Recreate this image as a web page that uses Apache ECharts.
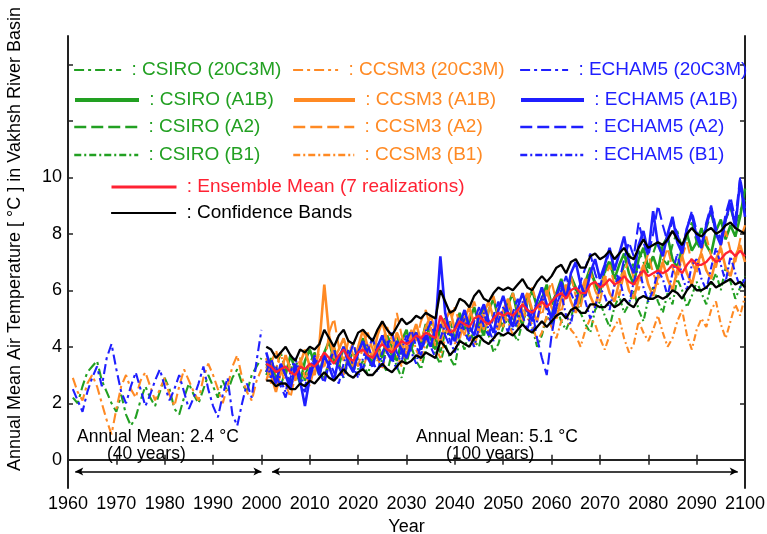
<!DOCTYPE html>
<html>
<head>
<meta charset="utf-8">
<script src="https://cdn.jsdelivr.net/npm/echarts@6/dist/echarts.min.js"></script>
<style>html,body{margin:0;padding:0;background:#fff;}#c{width:767px;height:534px;}</style>
</head>
<body>
<div id="c"></div>
<script>
// ---------- data ----------
const histStart = 1961, histEnd = 2000;
const scenStart = 2001, scenEnd = 2100;

const csiro20C3M = [2.2,2.0,2.6,3.1,3.3,3.5,2.8,2.4,2.0,1.7,2.3,1.6,1.2,1.5,2.1,2.6,2.2,1.9,2.4,2.9,2.5,1.8,1.6,2.2,2.7,2.3,2.0,2.5,3.0,2.6,2.2,2.8,2.4,2.9,3.2,2.7,2.4,3.0,3.3,3.6];
const ccsm20C3M  = [2.9,2.4,2.1,2.7,3.0,2.6,2.0,1.4,0.9,1.8,2.6,3.0,2.5,2.2,2.8,3.1,2.6,2.1,2.5,2.9,2.3,1.9,2.6,3.2,2.8,2.4,2.1,2.9,3.4,3.0,2.5,2.0,2.6,3.3,3.7,2.9,2.4,2.1,2.8,3.2];
const echam20C3M = [2.5,2.1,1.7,2.4,2.9,3.3,2.6,3.6,4.1,3.2,2.4,2.0,2.6,3.1,2.5,1.9,2.3,2.8,3.2,2.6,2.1,2.5,3.0,2.4,1.8,2.2,2.7,3.3,2.5,1.9,1.5,2.3,2.9,1.6,1.2,2.0,2.7,2.2,3.5,4.6];

const csiroA1B = [3.1,3.6,2.8,3.3,3.0,3.7,3.2,2.7,3.5,3.9, 3.4,3.0,3.8,4.2,3.5,3.3,4.0,3.6,3.1,3.9, 4.3,3.7,3.4,4.1,3.6,4.4,4.0,3.5,4.2,4.6, 3.9,4.5,4.1,4.8,4.3,3.9,4.7,5.0,4.4,4.6, 5.2,4.6,4.9,5.4,4.8,4.4,5.3,5.7,5.0,4.7, 5.5,5.9,5.1,4.8,5.6,6.0,5.4,5.7,6.2,5.5, 5.9,6.4,5.8,6.5,6.1,5.6,6.3,6.8,6.2,5.9, 6.7,7.0,6.4,6.9,7.3,6.6,6.2,7.1,7.5,6.8, 7.2,6.7,7.6,7.9,7.1,6.8,7.5,8.0,7.4,7.7, 8.2,7.6,7.3,8.1,8.5,7.8,8.3,7.9,8.6,9.6];
const csiroA2  = [3.4,2.9,3.2,3.8,3.1,2.7,3.3,3.6,3.0,3.4, 3.8,3.2,2.9,3.5,4.0,3.4,3.0,3.7,4.1,3.5, 3.2,3.9,4.3,3.6,3.3,4.0,3.7,4.4,3.8,3.4, 4.1,4.6,3.9,4.3,4.8,4.2,3.8,4.5,4.9,4.3, 4.7,5.1,4.5,4.2,4.9,5.4,4.8,5.2,4.6,5.0, 5.6,5.0,4.7,5.3,5.8,5.2,5.6,6.1,5.4,5.1, 5.8,6.2,5.7,6.4,6.0,5.5,6.2,6.7,6.3,6.0, 6.6,7.1,6.5,6.2,6.9,7.3,6.8,7.4,7.0,6.6, 7.3,7.8,7.1,6.9,7.6,8.1,7.5,7.9,8.4,7.7, 7.4,8.2,8.7,8.0,7.7,8.5,8.9,8.3,8.8,9.2];
const csiroB1  = [3.0,3.5,3.1,2.6,3.2,3.4,2.9,3.3,2.8,3.2, 3.6,3.1,2.8,3.4,3.9,3.3,2.9,3.5,3.8,3.2, 3.5,3.0,3.7,4.1,3.4,3.1,3.8,3.3,2.9,3.6, 4.0,3.5,3.2,3.9,4.3,3.7,3.4,4.1,3.6,3.3, 4.3,3.9,4.6,4.2,4.0,4.8,4.4,3.8,4.1,4.7, 5.0,4.5,4.2,4.9,5.3,4.7,4.0,4.4,5.1,4.8, 5.4,4.9,4.6,5.0,5.7,5.2,4.8,4.5,5.3,5.6, 5.1,4.7,5.4,5.8,5.2,5.5,6.0,5.3,4.9,5.7, 6.1,5.6,5.2,5.9,5.5,6.4,6.0,5.4,5.8,6.3, 5.9,5.5,6.2,6.6,6.0,6.8,6.3,5.7,6.1,6.5];

const ccsmA1B = [3.6,3.0,2.4,3.1,3.7,3.2,2.8,3.4,3.9,3.3, 3.0,4.1,6.2,4.4,3.6,3.9,4.3,3.7,3.3,4.0, 4.6,4.0,3.6,4.4,4.9,4.2,3.8,4.5,4.1,3.7, 4.3,4.8,4.2,4.7,5.1,4.5,4.1,4.9,5.3,4.6, 4.3,5.0,5.4,4.8,4.5,5.2,5.6,5.0,4.6,5.3, 5.7,5.1,4.8,5.5,5.9,5.3,4.9,5.6,6.0,5.4, 5.0,5.7,6.2,5.6,5.2,5.9,6.4,5.8,5.4,6.1, 6.5,5.9,5.6,6.3,6.7,6.0,5.7,6.4,6.9,6.2, 5.8,6.5,7.0,6.4,6.0,6.7,7.2,6.6,6.2,6.9, 7.3,6.7,6.4,7.1,7.5,6.8,6.5,7.2,7.6,7.0];
const ccsmA2  = [2.8,3.4,3.9,3.2,2.7,2.2,3.0,3.5,3.1,2.6, 3.3,3.8,3.2,4.5,5.0,4.0,3.5,4.2,3.7,3.3, 4.0,4.5,3.9,3.5,4.2,4.7,4.1,5.2,4.4,3.9, 4.6,4.2,4.9,5.3,4.6,4.3,5.0,4.5,4.8,5.4, 4.8,4.4,5.1,5.6,5.0,4.6,5.3,5.8,5.1,4.7, 5.4,5.9,5.3,4.9,5.6,6.1,5.5,5.1,5.8,6.3, 5.6,5.2,6.0,6.5,5.8,5.4,6.2,6.7,6.0,5.6, 6.4,6.9,6.2,5.8,6.6,7.1,6.4,6.0,6.8,7.3, 6.6,6.2,7.0,7.5,6.8,6.4,7.2,7.7,7.0,6.6, 7.4,7.9,7.2,6.8,7.6,8.1,7.4,7.0,7.8,8.3];
const ccsmB1  = [3.3,2.7,3.2,3.8,3.0,2.5,3.1,3.6,2.9,3.3, 3.7,3.1,2.8,3.5,4.0,3.4,3.0,3.7,4.2,3.5, 3.2,3.8,4.3,3.6,3.2,3.9,4.4,3.7,3.3,4.0, 4.5,3.9,3.5,4.2,4.7,4.0,3.6,4.3,4.8,4.1, 4.5,5.0,4.4,4.0,4.6,5.1,4.5,4.2,4.8,5.2, 4.9,4.4,4.6,5.3,5.0,4.8,4.2,4.5,5.1,4.7, 4.3,4.9,5.2,4.6,4.4,4.0,4.6,5.0,4.8,4.3, 3.9,4.4,4.7,5.0,4.3,3.8,4.1,4.9,4.5,4.2, 4.6,5.1,4.5,4.0,4.3,4.9,5.3,4.4,3.9,4.6, 5.0,4.7,5.3,5.6,4.8,4.3,4.9,5.5,5.1,5.8];

const echamA1B = [3.8,3.2,2.7,3.4,3.0,2.5,3.3,2.8,1.9,2.9, 3.5,3.0,3.7,3.3,2.8,3.6,4.0,3.4,3.1,3.8, 4.2,3.6,3.3,4.0,4.4,3.8,3.5,4.2,3.9,3.6, 4.1,4.5,3.9,4.4,4.0,4.7,7.2,5.2,4.5,4.2, 4.8,5.3,4.7,4.4,5.1,5.5,4.9,4.5,5.3,5.8, 5.2,4.7,5.4,5.9,5.3,4.9,5.6,6.1,5.5,5.0, 5.8,6.3,5.7,6.6,7.0,6.2,5.8,6.6,7.1,6.4, 6.9,7.5,6.7,7.3,7.9,7.0,6.6,7.6,8.1,7.3, 8.8,7.6,7.2,8.0,8.6,7.7,7.3,8.2,8.7,7.9, 7.5,8.3,8.9,8.0,7.6,8.5,9.1,8.2,9.9,8.6];
const echamA2  = [3.1,3.6,3.0,2.6,2.2,2.9,3.4,2.7,2.4,3.1, 3.6,3.1,2.7,3.4,3.9,3.3,2.9,3.6,4.1,3.5, 3.2,3.9,4.3,3.7,3.3,4.0,4.5,3.8,3.5,4.2, 4.6,4.0,3.7,4.4,4.9,4.3,4.8,4.4,4.0,4.7, 5.1,4.5,4.2,4.9,5.4,4.7,4.4,5.1,5.6,5.0, 4.5,5.2,5.7,5.1,4.6,5.3,4.3,3.6,3.0,4.4, 5.4,6.0,6.5,5.9,5.5,6.3,6.8,7.3,6.6,6.1, 6.8,7.4,6.8,6.3,7.1,7.7,7.2,8.4,7.7,7.2, 8.0,9.0,8.3,7.7,8.5,8.0,7.4,8.2,8.8,8.1, 7.6,8.4,9.0,8.2,7.8,8.7,9.3,8.5,10.0,8.9];
const echamB1  = [3.5,2.9,3.3,2.8,2.4,3.1,3.6,3.0,2.6,3.2, 3.7,3.2,2.8,3.5,3.1,2.7,3.4,3.9,3.3,2.9, 3.6,4.1,3.5,3.1,3.8,4.2,3.6,3.2,3.9,4.4, 3.8,3.4,4.1,4.6,4.0,3.6,4.3,4.8,4.2,3.8, 4.5,5.0,4.4,4.0,4.7,5.2,4.6,4.2,4.9,5.4, 5.1,4.6,4.9,5.6,5.2,4.5,4.9,5.8,5.3,4.8, 5.5,5.9,5.1,4.8,5.7,6.3,5.6,5.0,5.4,6.1, 5.8,5.3,6.2,6.5,5.7,5.5,6.3,6.9,6.1,5.6, 6.0,6.7,6.4,5.8,6.6,7.3,6.5,6.0,6.9,7.1, 6.4,6.0,6.8,7.5,6.9,6.3,7.2,6.6,6.1,6.4];

const ensembleMean = [3.4,3.3,3.1,3.2,3.3,3.1,3.0,3.3,3.2,3.4, 3.3,3.5,3.8,3.6,3.4,3.7,3.9,3.6,3.5,3.8, 3.9,3.7,3.6,3.9,4.1,3.9,3.8,4.0,4.2,4.1, 4.2,4.4,4.3,4.5,4.4,4.3,5.1,4.8,4.5,4.6, 4.9,4.8,4.7,5.0,5.1,4.9,4.8,5.0,5.2,5.1, 5.2,5.1,5.3,5.5,5.3,5.2,5.4,5.6,5.4,5.6, 5.8,5.9,5.7,6.0,6.1,5.9,5.9,6.2,6.3,6.1, 6.2,6.4,6.2,6.3,6.5,6.3,6.2,6.5,6.7,6.5, 6.6,6.7,6.6,6.7,6.9,6.8,6.6,6.9,7.1,6.9, 6.9,7.0,7.2,7.0,7.1,7.3,7.4,7.2,7.4,7.2];
const confUpper = [4.0,3.9,3.6,3.8,4.0,3.7,3.5,3.9,3.8,4.0, 3.9,4.1,4.6,4.3,4.0,4.4,4.6,4.2,4.1,4.5, 4.6,4.4,4.2,4.6,4.9,4.6,4.4,4.7,5.0,4.8, 4.9,5.1,5.0,5.2,5.1,5.0,6.0,5.6,5.2,5.3, 5.7,5.6,5.4,5.8,6.0,5.7,5.6,5.9,6.1,6.0, 6.1,6.0,6.2,6.4,6.1,6.0,6.3,6.5,6.3,6.5, 6.8,6.9,6.6,7.0,7.1,6.8,6.8,7.2,7.3,7.1, 7.2,7.4,7.1,7.3,7.5,7.2,7.1,7.5,7.8,7.5, 7.6,7.7,7.6,7.8,8.1,7.8,7.6,8.0,8.2,8.0, 7.9,8.1,8.2,8.0,8.1,8.3,8.4,8.2,8.1,8.0];
const confLower = [2.8,2.8,2.6,2.7,2.7,2.5,2.5,2.7,2.6,2.8, 2.7,2.9,3.1,2.9,2.8,3.0,3.2,3.0,2.9,3.1, 3.2,3.0,3.0,3.2,3.4,3.2,3.1,3.3,3.5,3.4, 3.5,3.7,3.6,3.8,3.7,3.6,4.2,4.0,3.7,3.9, 4.2,4.1,4.0,4.3,4.4,4.2,4.1,4.3,4.5,4.4, 4.5,4.4,4.6,4.8,4.6,4.5,4.7,4.9,4.7,4.9, 5.1,5.2,5.0,5.3,5.4,5.2,5.2,5.5,5.5,5.4, 5.4,5.6,5.4,5.5,5.7,5.5,5.4,5.7,5.8,5.7, 5.7,5.8,5.7,5.8,6.0,5.9,5.7,6.0,6.2,6.0, 6.0,6.1,6.3,6.1,6.2,6.3,6.4,6.2,6.3,6.1];

// annotations: period arrows and their texts (data coordinates)
const periodStart = [1961.5, 2002.2];
const periodEnd = [2000, 2098.5];
const periodLevel = -0.42;
const annotText = ['Annual Mean: 2.4 \u00B0C', '(40 years)', 'Annual Mean: 5.1 \u00B0C', '(100 years)'];
const annotX = [1978.6, 1976.2, 2048.7, 2047.3];
const annotY = [0.8, 0.2, 0.8, 0.2];

const yTickValues = [0,2,4,6,8,10,12,14];
const yLabelValues = [0,2,4,6,8,10];

// ---------- styles ----------
const GREEN = '#22a022', ORANGE = '#ff8a24', BLUE = '#1f1fff', RED = '#ff2233', BLACK = '#000';
const FONT = 'Liberation Sans, Arial, sans-serif';
const DASH_20C = [10,4,3,4], DASH_A2 = [12,5], DASH_B1 = [7,3,2,3];

const histYears = []; for (let y = histStart; y <= histEnd; y++) histYears.push(y);
const scenYears = []; for (let y = scenStart; y <= scenEnd; y++) scenYears.push(y);
const pair = (xs, vs) => xs.map((x, i) => [x, vs[i]]);

function ln(name, xs, vs, color, type, width) {
  return { name, type: 'line', data: pair(xs, vs), symbol: 'circle', showSymbol: false, smooth: false, animation: false,
    lineStyle: { color, type: type || 'solid', width: width || 2.1 }, itemStyle: { color }, z: 2 };
}

const series = [
  ln('CSIRO (20C3M)', histYears, csiro20C3M, GREEN, DASH_20C),
  ln('CCSM3 (20C3M)', histYears, ccsm20C3M, ORANGE, DASH_20C),
  ln('ECHAM5 (20C3M)', histYears, echam20C3M, BLUE, DASH_20C),
  ln('CSIRO (A1B)', scenYears, csiroA1B, GREEN, 'solid', 2.6),
  ln('CSIRO (A2)', scenYears, csiroA2, GREEN, DASH_A2),
  ln('CSIRO (B1)', scenYears, csiroB1, GREEN, DASH_B1),
  ln('CCSM3 (A1B)', scenYears, ccsmA1B, ORANGE, 'solid', 2.6),
  ln('CCSM3 (A2)', scenYears, ccsmA2, ORANGE, DASH_A2),
  ln('CCSM3 (B1)', scenYears, ccsmB1, ORANGE, DASH_B1),
  ln('ECHAM5 (A1B)', scenYears, echamA1B, BLUE, 'solid', 2.6),
  ln('ECHAM5 (A2)', scenYears, echamA2, BLUE, DASH_A2),
  ln('ECHAM5 (B1)', scenYears, echamB1, BLUE, DASH_B1),
  Object.assign(ln('Confidence Bands', scenYears, confUpper, BLACK, 'solid', 2.3), { z: 3 }),
  Object.assign(ln('Confidence Bands', scenYears, confLower, BLACK, 'solid', 2.3), { z: 3 }),
  Object.assign(ln('Ensemble Mean (7 realizations)', scenYears, ensembleMean, RED, 'solid', 2.3), { z: 4 }),
  {
    name: 'periods', type: 'line', data: [], silent: true, animation: false,
    markLine: {
      silent: true, animation: false, symbol: ['arrow', 'arrow'], symbolSize: [6, 8],
      lineStyle: { color: '#000', width: 1.6, type: 'solid' },
      label: { show: false },
      data: periodStart.map((s, i) => [ { coord: [s, periodLevel] }, { coord: [periodEnd[i], periodLevel] } ])
    }
  },
  {
    name: 'annotations', type: 'scatter', silent: true, animation: false, symbolSize: 0,
    data: annotX.map((x, i) => ({ value: [x, annotY[i]], label: { formatter: annotText[i] } })),
    label: { show: true, position: 'inside', color: '#000', opacity: 1, textBorderWidth: 0, fontFamily: FONT, fontSize: 17.5 },
    z: 5
  }
];

// legend layout: [name, color, lineLeft, rowCenterY, lineWidth, iconLineWidth]
const legendLayout = [
  ['CSIRO (20C3M)', GREEN, 73, 70, 47, 2.2],
  ['CSIRO (A1B)', GREEN, 73, 100, 64, 4],
  ['CSIRO (A2)', GREEN, 73, 127, 64, 2.5],
  ['CSIRO (B1)', GREEN, 73, 155, 64, 2.5],
  ['CCSM3 (20C3M)', ORANGE, 292, 70, 45, 2.2],
  ['CCSM3 (A1B)', ORANGE, 292, 100, 61, 4],
  ['CCSM3 (A2)', ORANGE, 292, 127, 61, 2.5],
  ['CCSM3 (B1)', ORANGE, 292, 155, 61, 2.5],
  ['ECHAM5 (20C3M)', BLUE, 519, 70, 48, 2.2],
  ['ECHAM5 (A1B)', BLUE, 519, 100, 63, 4],
  ['ECHAM5 (A2)', BLUE, 519, 127, 63, 2.5],
  ['ECHAM5 (B1)', BLUE, 519, 155, 63, 2.5],
  ['Ensemble Mean (7 realizations)', RED, 110, 187, 65, 3],
  ['Confidence Bands', BLACK, 110, 213, 65, 2.2]
];
const legends = legendLayout.map(([name, color, left, cy, w, lw]) => ({
  data: [name], left, top: cy - 11, itemWidth: w, itemHeight: 14, padding: 0, selectedMode: false,
  itemStyle: { opacity: 0 }, lineStyle: { width: lw },
  formatter: ' : {name}', textStyle: { color, fontFamily: FONT, fontSize: 19, lineHeight: 22 }
}));

const chart = echarts.init(document.getElementById('c'), null, { renderer: 'canvas' });
chart.setOption({
  backgroundColor: '#fff',
  animation: false,
  grid: { left: 68, right: 22, top: 36, bottom: 46, containLabel: false, outerBoundsMode: 'none' },
  legend: legends,
  xAxis: [
    { type: 'value', min: 1960, max: 2100, interval: 10, position: 'bottom',
      name: 'Year', nameLocation: 'middle', nameGap: 24,
      nameTextStyle: { color: '#000', fontFamily: FONT, fontSize: 18 },
      axisLine: { show: true, lineStyle: { color: '#222', width: 2 } },
      axisTick: { show: true, inside: true, length: 5, lineStyle: { color: '#222', width: 1.5 } },
      axisLabel: { color: '#000', fontFamily: FONT, fontSize: 18, margin: 7, formatter: v => String(v) },
      splitLine: { show: false } },
    { type: 'value', min: 1960, max: 2100, interval: 10, position: 'top',
      axisLine: { show: true, lineStyle: { color: '#222', width: 2 } },
      axisTick: { show: true, inside: true, length: 5, lineStyle: { color: '#222', width: 1.5 } },
      axisLabel: { show: false }, splitLine: { show: false } }
  ],
  yAxis: [
    { type: 'value', min: -1, max: 15, position: 'left',
      axisLine: { show: true, lineStyle: { color: '#222', width: 2 } },
      axisTick: { show: true, inside: true, length: 5, customValues: yTickValues, lineStyle: { color: '#222', width: 1.5 } },
      axisLabel: { color: '#000', fontFamily: FONT, fontSize: 18, margin: 6, customValues: yLabelValues },
      splitLine: { show: false } },
    { type: 'value', min: -1, max: 15, position: 'right',
      axisLine: { show: true, lineStyle: { color: '#222', width: 2 } },
      axisTick: { show: true, inside: true, length: 5, customValues: yTickValues, lineStyle: { color: '#222', width: 1.5 } },
      axisLabel: { show: false }, splitLine: { show: false } }
  ],
  graphic: [
    { type: 'text', x: 15, y: 239, rotation: Math.PI / 2, silent: true,
      style: { text: 'Annual Mean Air Temperature [ \u00B0C ] in Vakhsh River Basin', fill: '#000',
        font: '18px ' + FONT, align: 'center', verticalAlign: 'middle', textAlign: 'center', textVerticalAlign: 'middle' } }
  ],
  series
});
</script>
</body>
</html>
